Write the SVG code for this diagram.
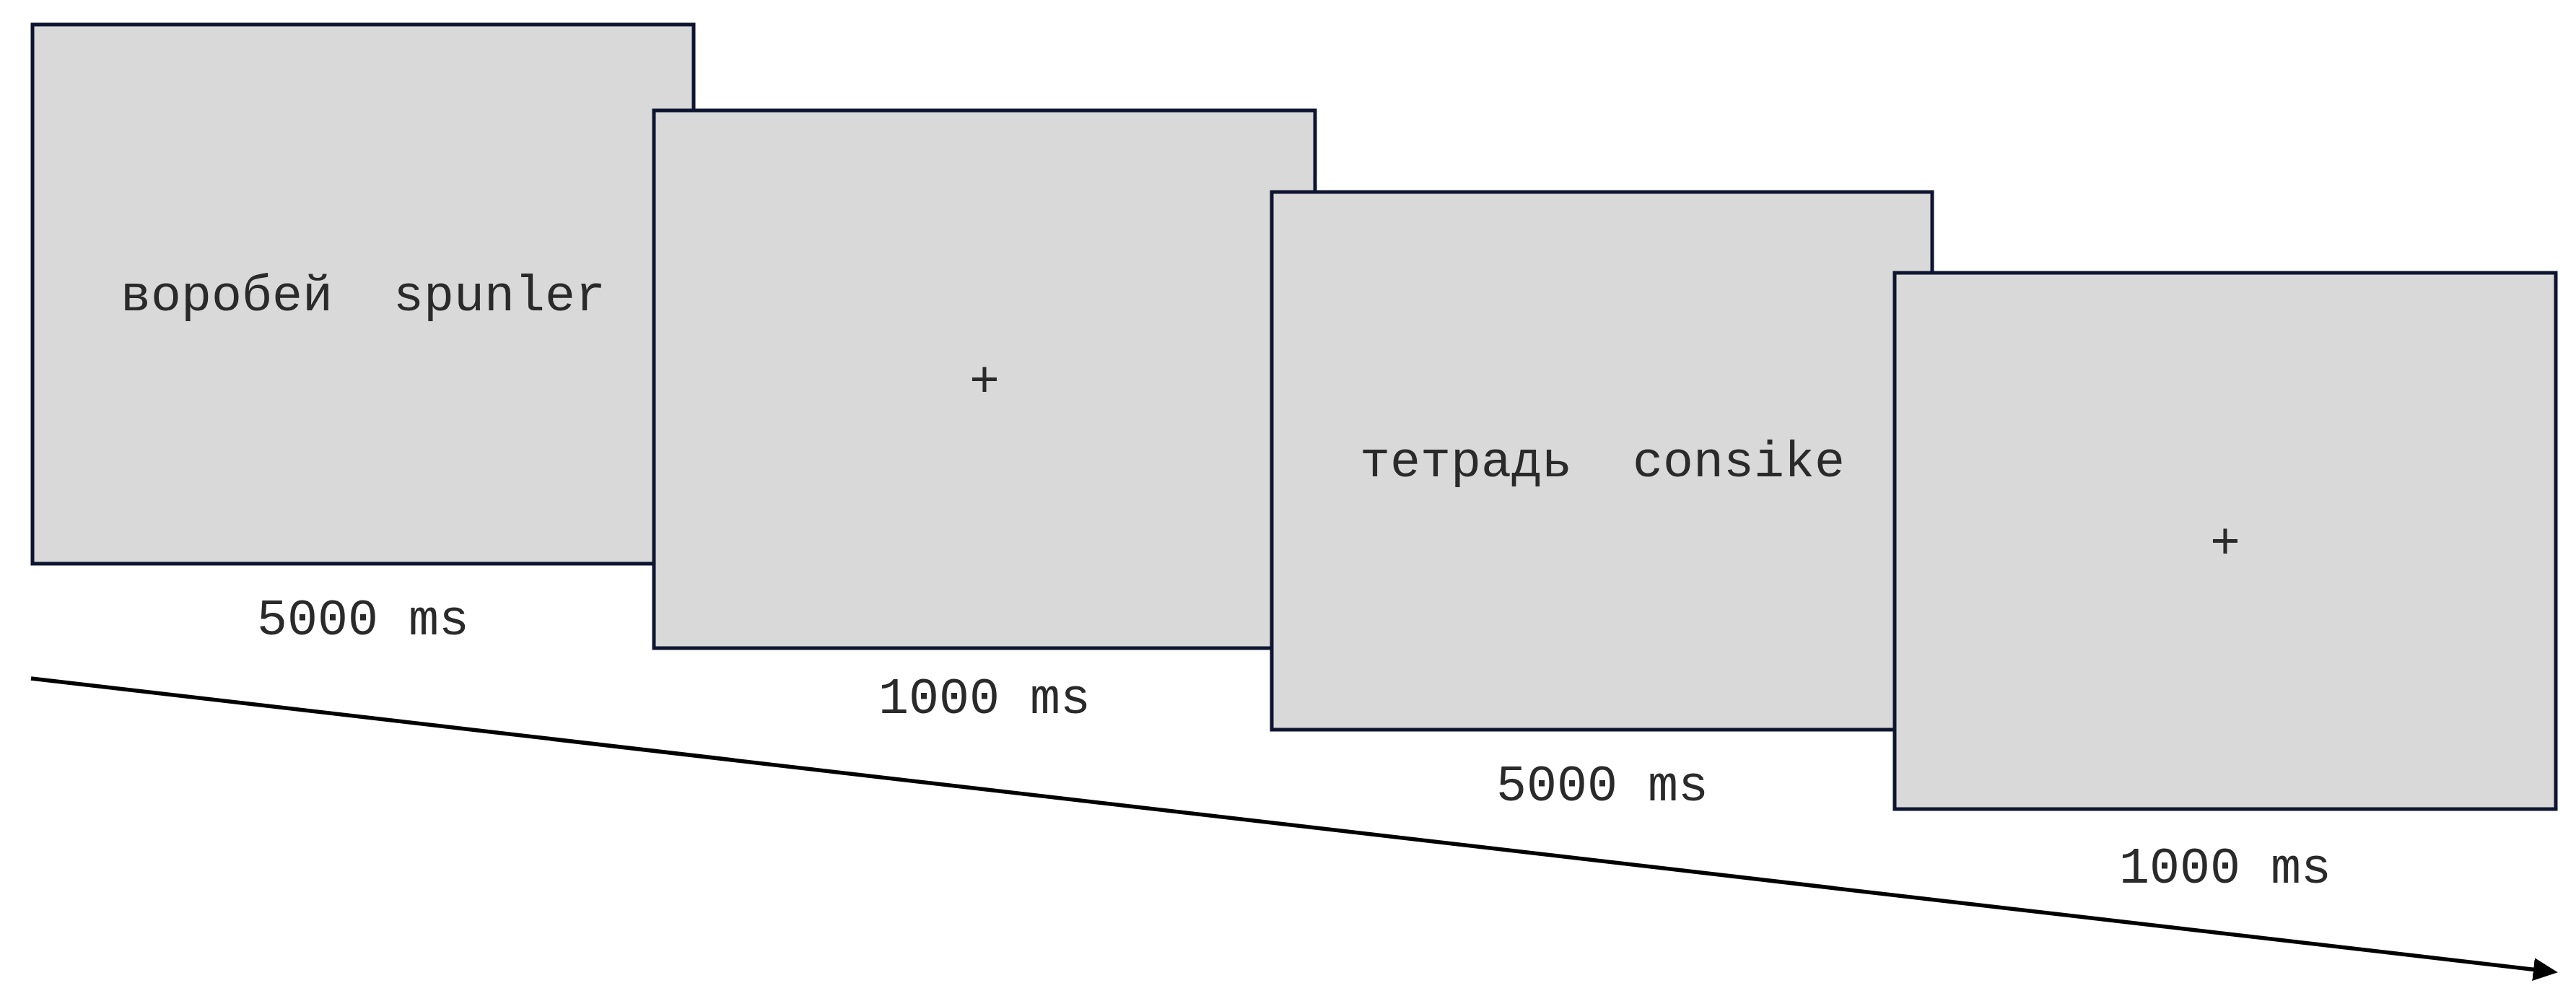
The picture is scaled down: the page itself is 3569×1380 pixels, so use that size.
<svg xmlns="http://www.w3.org/2000/svg" width="3569" height="1380" viewBox="0 0 3569 1380">
  <style>
    .screen { fill: #d9d9d9; stroke: #0e1530; stroke-width: 5; }
    .txt { font-family: "Liberation Mono", "Courier New", "DejaVu Sans Mono", monospace; font-size: 70px; fill: #2a2a2a; text-anchor: middle; }
    .axis { stroke: #000000; stroke-width: 5.5; fill: none; }
  </style>
  <defs>
    <marker id="arrow" markerUnits="userSpaceOnUse" markerWidth="36" markerHeight="32" refX="6" refY="16" orient="auto" viewBox="0 0 36 32">
      <path d="M0,0 L34,16 L0,32 Z" fill="#000000"/>
    </marker>
  </defs>
  <rect x="0" y="0" width="3569" height="1380" fill="#ffffff"/>
  <g id="connectors">
    <path class="axis" d="M43,940 L3516,1343.9" marker-end="url(#arrow)"/>
  </g>
  <g id="screen1">
    <rect class="screen" x="45" y="34" width="916" height="747"/>
    <text class="txt" x="503" y="430" xml:space="preserve">воробей  spunler</text>
    <text class="txt" x="503" y="879">5000 ms</text>
  </g>
  <g id="screen2">
    <rect class="screen" x="906" y="153" width="916" height="745"/>
    <text class="txt" x="1364" y="549">+</text>
    <text class="txt" x="1364" y="988">1000 ms</text>
  </g>
  <g id="screen3">
    <rect class="screen" x="1762" y="266" width="915" height="745"/>
    <text class="txt" x="2220" y="660" xml:space="preserve">тетрадь  consike</text>
    <text class="txt" x="2220" y="1109">5000 ms</text>
  </g>
  <g id="screen4">
    <rect class="screen" x="2625" y="378" width="916" height="743"/>
    <text class="txt" x="3083" y="773">+</text>
    <text class="txt" x="3083" y="1223">1000 ms</text>
  </g>
</svg>
